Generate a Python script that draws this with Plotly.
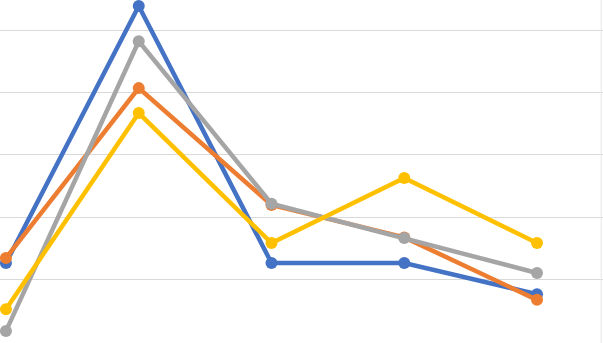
import plotly.graph_objects as go

categories = [0, 1, 2, 3, 4]
series_names = ["Series 1", "Series 2", "Series 3", "Series 4"]
blue_vals = [1.27, 5.385, 1.27, 1.27, 0.77]
orange_vals = [1.35, 4.07, 2.20, 1.68, 0.68]
gray_vals = [0.18, 4.82, 2.22, 1.67, 1.11]
yellow_vals = [0.53, 3.67, 1.59, 2.63, 1.59]
colors = ["#4472C4", "#ED7D31", "#A5A5A5", "#FFC000"]

fig = go.Figure()
for name, vals, col in zip(series_names, [blue_vals, orange_vals, gray_vals, yellow_vals], colors):
    fig.add_trace(go.Scatter(
        x=categories, y=vals, name=name, mode="lines+markers",
        line=dict(color=col, width=4.5),
        marker=dict(color=col, size=12),
        cliponaxis=False,
    ))

fig.update_layout(
    width=603, height=343,
    margin=dict(l=0, r=0, t=0, b=0),
    paper_bgcolor="white", plot_bgcolor="white",
    showlegend=False,
    xaxis=dict(range=[-0.045, 4.497], showgrid=False, zeroline=False,
               showticklabels=False, ticks=""),
    yaxis=dict(range=[-0.011, 5.481], dtick=1, showgrid=True,
               gridcolor="#D9D9D9", gridwidth=1, zeroline=False,
               showticklabels=False, ticks=""),
)
fig.add_shape(type="line", xref="paper", yref="paper", x0=0.997, x1=0.997,
              y0=0, y1=1, line=dict(color="#E6E6E6", width=1))

fig.write_html("out.html",
               config={"displayModeBar": False},
               post_script="document.body.style.margin='0';document.body.style.overflow='hidden';")
